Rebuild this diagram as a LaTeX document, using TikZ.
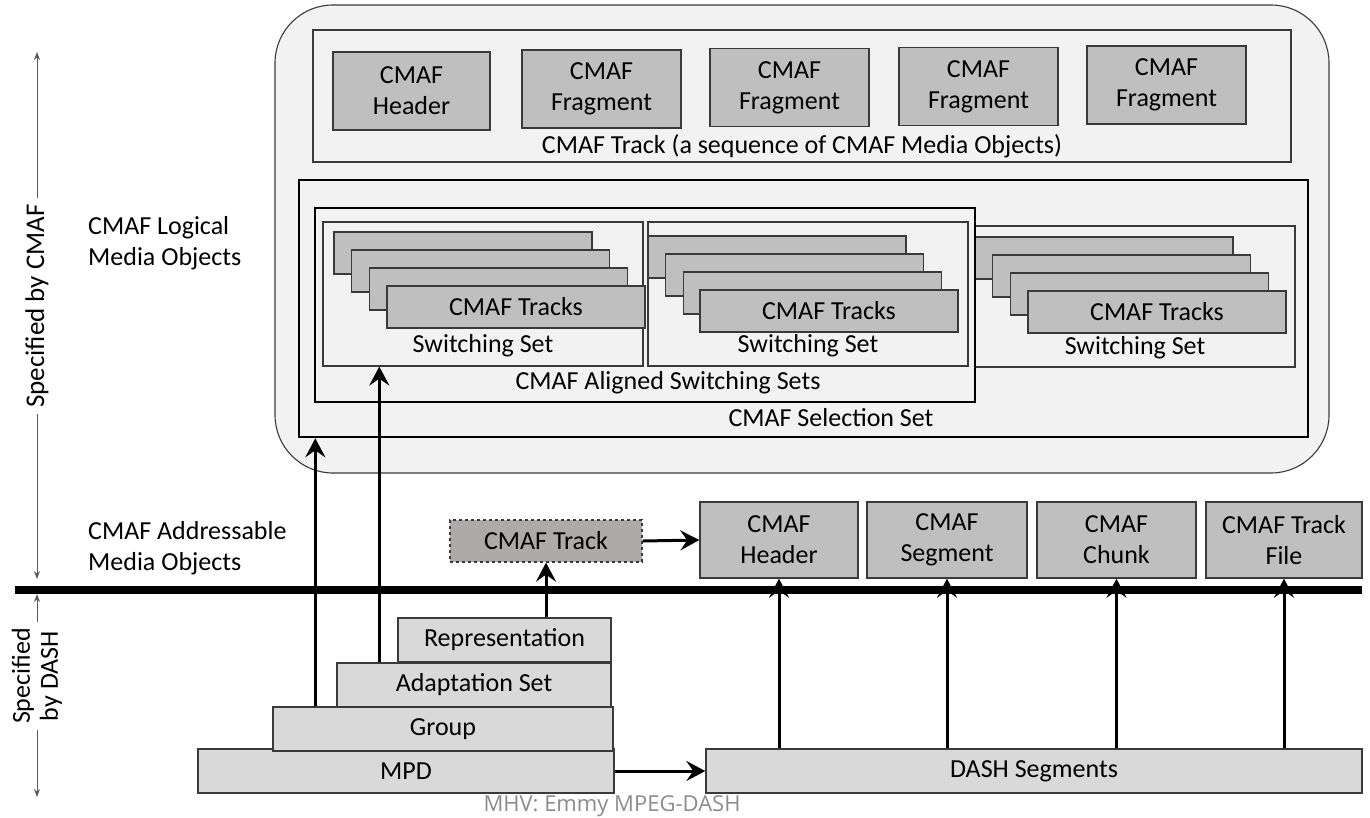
\documentclass[tikz,border=0pt]{standalone}
\usepackage{fontspec}
\setmainfont{Carlito}
\newfontfamily\notefont{Open Sans}
\usetikzlibrary{arrows.meta}

\definecolor{panel}{HTML}{F2F2F2}
\definecolor{edge}{HTML}{3A3A3A}
\definecolor{cmafgray}{HTML}{BFBFBF}
\definecolor{dashgray}{HTML}{D9D9D9}
\definecolor{trackgray}{HTML}{AEAAAA}
\definecolor{axisgray}{HTML}{595959}
\definecolor{notegray}{HTML}{8C8C8C}

\tikzset{
  txt/.style={font=\fontsize{26}{31}\selectfont, text=black},
  cmafbox/.style={txt, draw=edge, fill=cmafgray, line width=1.4pt, inner sep=0pt, align=center},
  dashbox/.style={txt, draw=edge, fill=dashgray, line width=1.4pt, inner sep=0pt, align=center},
  setbox/.style={draw=edge, fill=panel, line width=1.1pt, inner sep=0pt},
  groupbox/.style={draw=black, line width=2.6pt, inner sep=0pt},
  plain/.style={txt, inner sep=0pt},
  arr/.style={line width=3pt, -{Stealth[length=19pt, width=20pt, inset=7pt]}},
  axis/.style={draw=axisgray, line width=1pt, -{Stealth[length=8pt, width=6pt]}},
  axislabel/.style={txt, inner sep=6pt, align=center},
}

\begin{document}
\begin{tikzpicture}[x=1pt, y=-1pt]
\useasboundingbox[fill=white] (0,0) rectangle (1370,817);

% ---------- CMAF logical media objects ----------
\node[setbox, rounded corners=58pt, minimum width=1054pt, minimum height=468pt] (logical) at (802,239) {};

\node[setbox, minimum width=978pt, minimum height=132pt] (track) at (802,96) {};
\node[cmafbox, minimum width=157pt, minimum height=78pt] (hdrT) at (411.5,91) {CMAF\\Header};
\node[cmafbox, minimum width=159pt, minimum height=78pt] (frA) at (601.5,89) {CMAF\\Fragment};
\node[cmafbox, minimum width=159pt, minimum height=78pt] (frB) at (789.5,87.5) {CMAF\\Fragment};
\node[cmafbox, minimum width=159pt, minimum height=78pt] (frC) at (978.5,86.5) {CMAF\\Fragment};
\node[cmafbox, minimum width=159pt, minimum height=78pt] (frD) at (1166.5,85) {CMAF\\Fragment};
\node[plain] (trackLbl) at (802,146) {CMAF Track (a sequence of CMAF Media Objects)};

% switching sets, each holding a stack of tracks
\node[setbox, minimum width=320pt, minimum height=144pt] (setA) at (483,294) {};
\node[setbox, minimum width=320pt, minimum height=144pt] (setB) at (808,294) {};
\node[setbox, minimum width=320pt, minimum height=141pt] (setC) at (1135,296.5) {};

\foreach \x/\y/\n in {334/232/A, 648/236/B, 975/237/C}{
  \foreach \k in {0,1,2}{
    \node[cmafbox, minimum width=258pt, minimum height=42pt]
      (stack\n\k) at ({\x+129+17.7*\k},{\y+21+18*\k}) {};
  }
}
\node[cmafbox, minimum width=258pt, minimum height=42pt] (tracksA) at (516,307) {CMAF Tracks};
\node[cmafbox, minimum width=258pt, minimum height=42pt] (tracksB) at (829,311) {CMAF Tracks};
\node[cmafbox, minimum width=258pt, minimum height=42pt] (tracksC) at (1157,312) {CMAF Tracks};

\node[plain] (ssA) at (483,346) {Switching Set};
\node[plain] (ssB) at (808,346) {Switching Set};
\node[plain] (ssC) at (1135,348) {Switching Set};

\node[groupbox, minimum width=660pt, minimum height=194pt] (aligned) at (645,305) {};
\node[plain] (alignedLbl) at (668,383) {CMAF Aligned Switching Sets};
\node[groupbox, minimum width=1009pt, minimum height=257pt] (selection) at (803.5,308.5) {};
\node[plain] (selectionLbl) at (831,418) {CMAF Selection Set};

% ---------- side labels ----------
\node[plain, align=left, anchor=west] (logicalLbl) at (88,243) {CMAF Logical\\Media Objects};
\node[plain, align=left, anchor=west] (addrLbl) at (88,548) {CMAF Addressable\\Media Objects};

\node[axislabel, rotate=90, font=\fontsize{27}{31}\selectfont] (specC) at (37,306) {Specified by CMAF};
\coordinate (cTop) at (37,52);
\coordinate (cBot) at (37,579);
\draw[axis] (specC.east) -- (cTop);
\draw[axis] (specC.west) -- (cBot);

\node[axislabel, rotate=90, font=\fontsize{26}{28}\selectfont] (specD) at (37,676) {Specified\\by DASH};
\coordinate (dTop) at (37,594);
\coordinate (dBot) at (37,797);
\draw[axis] (specD.east) -- (dTop);
\draw[axis] (specD.west) -- (dBot);

% ---------- boundary between CMAF and DASH ----------
\coordinate (railL) at (15,590);
\coordinate (railR) at (1362,590);
\draw[line width=8pt, black] (railL) -- (railR);

% ---------- CMAF addressable media objects ----------
\node[cmafbox, fill=trackgray, dashed, line width=1.2pt, minimum width=192pt, minimum height=42pt] (ctrack) at (546,541) {CMAF Track};
\node[cmafbox, minimum width=158pt, minimum height=76pt] (hdrB) at (779,540) {CMAF\\Header};
\node[cmafbox, minimum width=160pt, minimum height=76pt] (seg) at (947,540) {CMAF\\Segment};
\node[cmafbox, minimum width=159pt, minimum height=76pt] (chunk) at (1116.5,540) {CMAF\\Chunk};
\node[cmafbox, minimum width=156pt, minimum height=76pt] (tfile) at (1284,540) {CMAF Track\\File};

% ---------- DASH structures ----------
\node[dashbox, minimum width=416pt, minimum height=44pt] (mpd) at (406,771) {MPD};
\node[dashbox, minimum width=340pt, minimum height=44pt] (group) at (443,729) {Group};
\node[dashbox, minimum width=274pt, minimum height=44pt] (adapt) at (474,685) {Adaptation Set};
\node[dashbox, minimum width=213pt, minimum height=44pt] (rep) at (504.5,640) {Representation};
\node[dashbox, minimum width=656pt, minimum height=44pt] (dashseg) at (1034,771) {DASH Segments};

% ---------- mappings ----------
\draw[arr] ([xshift=43pt]group.north west) -- ([xshift=43pt]group.north west |- selection.south);
\draw[arr] ([xshift=43pt]adapt.north west) -- ([xshift=43pt]adapt.north west |- setA.south);
\draw[arr] (ctrack.south |- rep.north) -- (ctrack.south);
\draw[arr] (ctrack.east) -- (hdrB.west);
\draw[arr] (mpd.east) -- (dashseg.west);
\foreach \t in {hdrB, seg, chunk, tfile}{
  \draw[arr] (\t.south |- dashseg.north) -- (\t.south);
}

\node[font=\notefont\fontsize{22}{26}\selectfont, text=notegray, inner sep=0pt] (note) at (612,806) {MHV: Emmy MPEG-DASH};
\end{tikzpicture}
\end{document}
